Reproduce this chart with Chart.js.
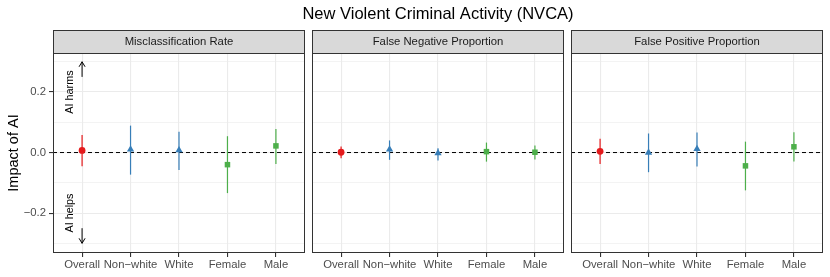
<!DOCTYPE html>
<html><head><meta charset="utf-8">
<script src="https://cdn.jsdelivr.net/npm/chart.js@4/dist/chart.umd.min.js"></script>
<style>
html,body{margin:0;padding:0;background:#fff;}
#wrap{position:relative;width:830px;height:277px;background:#fff;}
#wrap canvas{position:absolute;left:0;top:0;}
</style></head><body>
<div id="wrap">
<canvas id="c0" width="830" height="277"></canvas>
<canvas id="c1" width="830" height="277"></canvas>
<canvas id="c2" width="830" height="277"></canvas>
</div>
<script>
// ---- data ----
const chartTitle = "New Violent Criminal Activity (NVCA)";
const yAxisTitle = "Impact of AI";
const panelTitles = ["Misclassification Rate", "False Negative Proportion", "False Positive Proportion"];
const categories = ["Overall", "Non\u2212white", "White", "Female", "Male"];

const misEst = [0.007, 0.010, 0.008, -0.040, 0.022];
const misLo  = [-0.045, -0.073, -0.058, -0.134, -0.038];
const misHi  = [0.058, 0.089, 0.069, 0.054, 0.078];

const fnEst = [0.001, 0.010, -0.002, 0.003, 0.001];
const fnLo  = [-0.019, -0.024, -0.026, -0.030, -0.023];
const fnHi  = [0.020, 0.040, 0.014, 0.033, 0.023];

const fpEst = [0.004, 0.000, 0.012, -0.044, 0.019];
const fpLo  = [-0.038, -0.065, -0.046, -0.125, -0.030];
const fpHi  = [0.046, 0.063, 0.066, 0.036, 0.067];

const yTicks = [-0.3, -0.2, -0.1, 0, 0.1, 0.2, 0.3];
const yMajor = [-0.2, 0, 0.2];
const yRange = [-0.332, 0.329];
const xRange = [0.4, 5.6];
const refY = 0;

const annoLabels = ["AI harms", "AI helps"];
const annoTextX = 0.76;
const annoTextY = [0.2, -0.2];
const annoArrowX = 1;
const annoArrowFrom = [0.25, -0.25];
const annoArrowTo = [0.3, -0.3];

// ---- styling / layout ----
const groupColors = ["#E41A1C", "#377EB8", "#377EB8", "#4DAF4A", "#4DAF4A"];
const groupShapes = ["circle", "triangle", "triangle", "rect", "rect"];
const groupRadius = [3.4, 4.2, 4.2, 3.9, 3.9];
const PANELS = [{left:53, right:305}, {left:312, right:564}, {left:571, right:823}];
const PLOT_TOP = 53, PLOT_BOTTOM = 253, STRIP_TOP = 30, X_AXIS_H = 24, Y_AXIS_W = 53;
const FONT = "'Liberation Sans', Arial, Helvetica, sans-serif";

Chart.defaults.font.family = FONT;

const panelData = [
  {est: misEst, lo: misLo, hi: misHi},
  {est: fnEst, lo: fnLo, hi: fnHi},
  {est: fpEst, lo: fpLo, hi: fpHi}
];

const isMajor = v => yMajor.some(m => Math.abs(m - v) < 1e-9);
const fmtY = v => Math.abs(v) < 1e-9 ? "0.0" : (v < 0 ? "\u2212" : "") + Math.abs(v).toFixed(1);

const facetPlugin = {
  id: 'facet',
  beforeDraw(chart, args, opts) {
    const ctx = chart.ctx, a = chart.chartArea;
    ctx.save();
    ctx.fillStyle = '#D9D9D9';
    ctx.fillRect(a.left, STRIP_TOP, a.right - a.left, a.top - STRIP_TOP);
    ctx.strokeStyle = '#333333';
    ctx.lineWidth = 1;
    ctx.strokeRect(a.left + 0.5, STRIP_TOP + 0.5, a.right - a.left - 1, a.top - STRIP_TOP);
    ctx.fillStyle = '#1A1A1A';
    ctx.font = '11.3px ' + FONT;
    ctx.textAlign = 'center';
    ctx.textBaseline = 'middle';
    ctx.fillText(panelTitles[opts.index], (a.left + a.right) / 2, (STRIP_TOP + a.top) / 2 + 0.5);
    ctx.restore();
  },
  afterDraw(chart, args, opts) {
    const ctx = chart.ctx, a = chart.chartArea;
    const xs = chart.scales.x, ys = chart.scales.y;
    ctx.save();
    ctx.strokeStyle = '#333333';
    ctx.lineWidth = 1;
    ctx.strokeRect(a.left + 0.5, a.top + 0.5, a.right - a.left - 1, a.bottom - a.top - 1);
    if (opts.index === 0) {
      // annotations
      ctx.strokeStyle = '#000';
      ctx.fillStyle = '#000';
      ctx.lineWidth = 1;
      annoLabels.forEach((lab, k) => {
        const ax = xs.getPixelForValue(annoArrowX);
        const y0 = ys.getPixelForValue(annoArrowFrom[k]);
        const y1 = ys.getPixelForValue(annoArrowTo[k]);
        const dir = y1 < y0 ? 1 : -1;
        ctx.beginPath();
        ctx.moveTo(ax, y0); ctx.lineTo(ax, y1);
        ctx.moveTo(ax - 3, y1 + dir * 5); ctx.lineTo(ax, y1); ctx.lineTo(ax + 3, y1 + dir * 5);
        ctx.stroke();
        const tx = xs.getPixelForValue(annoTextX);
        const ty = ys.getPixelForValue(annoTextY[k]);
        ctx.save();
        ctx.translate(tx, ty);
        ctx.rotate(-Math.PI / 2);
        ctx.font = '10.8px ' + FONT;
        ctx.textAlign = 'center';
        ctx.textBaseline = 'middle';
        ctx.fillText(lab, 0, 0);
        ctx.restore();
      });
      // main title
      ctx.fillStyle = '#000';
      ctx.font = '16.5px ' + FONT;
      ctx.textAlign = 'center';
      ctx.textBaseline = 'middle';
      ctx.fillText(chartTitle, (PANELS[0].left + PANELS[2].right) / 2, 14);
    }
    ctx.restore();
  }
};

function makeChart(i) {
  const P = PANELS[i];
  const first = i === 0;
  const yW = first ? Y_AXIS_W : 0;
  const pd = panelData[i];
  const datasets = [];
  datasets.push({
    label: 'estimate',
    data: categories.map((c, k) => ({x: k + 1, y: pd.est[k]})),
    pointStyle: groupShapes, pointRadius: groupRadius,
    pointBackgroundColor: groupColors, pointBorderColor: groupColors, pointBorderWidth: 0,
    showLine: false, order: 0
  });
  categories.forEach((c, k) => datasets.push({
    label: 'interval ' + c,
    data: [{x: k + 1, y: pd.lo[k]}, {x: k + 1, y: pd.hi[k]}],
    showLine: true, borderColor: groupColors[k], borderWidth: 1.2,
    pointRadius: 0, order: 1
  }));
  datasets.push({
    label: 'zero',
    data: [{x: xRange[0], y: refY}, {x: xRange[1], y: refY}],
    showLine: true, borderColor: '#000', borderWidth: 1, borderDash: [4, 3],
    pointRadius: 0, order: 2
  });
  return new Chart(document.getElementById('c' + i), {
    type: 'scatter',
    data: {datasets},
    plugins: [facetPlugin],
    options: {
      responsive: false, animation: false, events: [],
      layout: {padding: {left: P.left - yW, right: 830 - P.right, top: PLOT_TOP, bottom: 277 - PLOT_BOTTOM - X_AXIS_H}},
      plugins: {legend: {display: false}, title: {display: false}, tooltip: {enabled: false}, facet: {index: i}},
      scales: {
        x: {
          type: 'linear', min: xRange[0], max: xRange[1], bounds: 'data',
          afterBuildTicks: s => { s.ticks = categories.map((c, k) => ({value: k + 1})); },
          afterFit: s => { s.height = X_AXIS_H; },
          ticks: {callback: v => categories[Math.round(v) - 1] ?? '', autoSkip: false, maxRotation: 0, minRotation: 0,
                  color: '#4D4D4D', font: {size: 11.3}, padding: 1},
          grid: {color: '#EBEBEB', lineWidth: 1.1, tickColor: '#333333', tickLength: 4},
          border: {display: false}
        },
        y: {
          type: 'linear', min: yRange[0], max: yRange[1], bounds: 'data',
          afterBuildTicks: s => { s.ticks = yTicks.map(v => ({value: v})); },
          afterFit: s => { s.width = yW; },
          ticks: {display: first, callback: v => isMajor(v) ? fmtY(v) : '', color: '#4D4D4D', font: {size: 11.3}, padding: 3},
          grid: {color: '#EBEBEB', lineWidth: c => isMajor(c.tick.value) ? 1.1 : 0.6,
                 tickColor: c => isMajor(c.tick.value) ? '#333333' : 'rgba(0,0,0,0)', tickLength: 4, drawTicks: first},
          border: {display: false},
          title: {display: first, text: yAxisTitle, color: '#000', font: {size: 14.5}, padding: {top: 5, bottom: 0}}
        }
      }
    }
  });
}
[0, 1, 2].forEach(makeChart);
</script>
</body></html>
